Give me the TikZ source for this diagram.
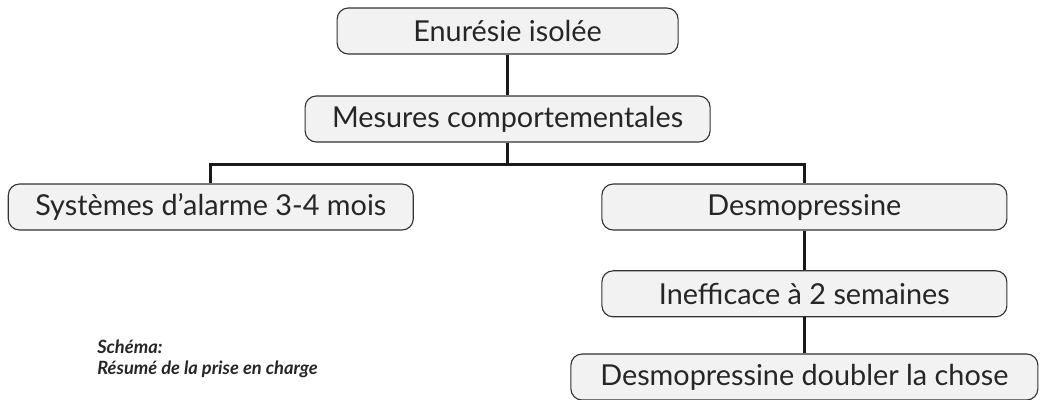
\documentclass[tikz,border=0pt]{standalone}
\usepackage{fontspec}
\setmainfont{Lato}
\usetikzlibrary{positioning}

\tikzset{
  box/.style={draw=black!80, fill=black!5, rounded corners=0.28cm, line width=0.8pt,
    minimum width=10.125cm, minimum height=1.15cm, inner sep=0pt, text=black!85,
    font=\fontsize{20.5}{24}\selectfont},
  link/.style={draw=black!90, line width=2pt},
}

\begin{document}
\begin{tikzpicture}[node distance=2.2cm]
 \useasboundingbox (0,0) rectangle (26,-9.975);

 \node[box, minimum width=8.525cm, name=enuresie] at (12.69,-0.775) {Enurésie isolée};
 \node[box, below of=enuresie,                     name=mesures]    {Mesures comportementales};
 \node[box, below of=mesures,    xshift=-7.42cm,   name=systemes]   {Systèmes d’alarme 3-4 mois};
 \node[box, below of=mesures,    xshift=7.42cm,    name=desmo]      {Desmopressine};
 \node[box, below of=desmo,      yshift=0.03cm,    name=inefficace] {Inefficace à 2 semaines};
 \node[box, below of=inefficace, yshift=0.12cm, minimum width=11.675cm, name=doubler] {Desmopressine doubler la chose};

 \coordinate[below=0.55cm of mesures] (fork);

 \draw[link] (enuresie) -- (mesures);
 \draw[link] (mesures)  -- (fork);
 \draw[link] (systemes) |- (fork) -| (desmo);
 \draw[link] (desmo)      -- (inefficace);
 \draw[link] (inefficace) -- (doubler);

 \node[anchor=north west, inner sep=0pt, align=left, name=legende, text=black!85,
       font=\fontsize{13}{14.5}\selectfont\bfseries\itshape] at (2.425,-8.5)
   {Schéma:\\Résumé de la prise en charge};

\end{tikzpicture}
\end{document}
